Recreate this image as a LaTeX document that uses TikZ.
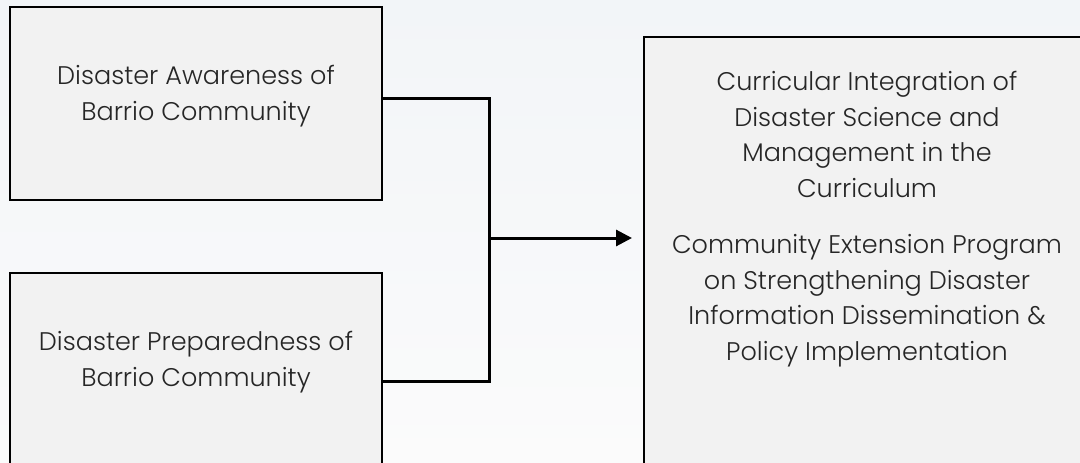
\documentclass[tikz,border=0pt]{standalone}
\usepackage{fontspec}
\setmainfont{Poppins Light}
\usepackage{xcolor}
\usepackage{tikz}
\usetikzlibrary{positioning,calc,arrows.meta}
\definecolor{boxgray}{HTML}{F2F2F2}
\definecolor{bgtop}{HTML}{F2F5F8}
\definecolor{bgbot}{HTML}{FBFBFB}
\tikzset{
  basic/.style  = {draw=black, line width=2pt, fill=boxgray, rectangle},
  label/.style  = {font=\fontsize{25.5}{35.5}\selectfont, align=center, text=black!85},
  link/.style   = {line width=3pt, line cap=rect},
  post/.style   = {-{Triangle[length=16pt,width=16pt]}, line width=3pt}
}
\begin{document}
\begin{tikzpicture}[x=1pt,y=-1pt]
  \useasboundingbox (0,0) rectangle (1080,463);
  \clip (0,0) rectangle (1080,463);
  \shade[top color=bgtop, bottom color=bgbot] (0,0) rectangle (1080,463);
  \node[basic, minimum width=372pt, minimum height=193pt] (aware) at (196,103.5) {};
  \node[basic, minimum width=372pt, minimum height=217pt] (prep)  at (196,381.5) {};
  \node[basic, minimum width=446pt, minimum height=453pt] (integ) at (867,263.5) {};
  \node[label] (awaretext) at (196,96) {Disaster Awareness of\\Barrio Community};
  \node[label] (preptext)  at (196,362) {Disaster Preparedness of\\Barrio Community};
  \node[label] (integtext) at (867,219) {Curricular Integration of\\Disaster Science and\\Management in the\\Curriculum\\[21pt]Community Extension Program\\on Strengthening Disaster\\Information Dissemination \&\\Policy Implementation};
  \coordinate (join) at (489,238);
  \draw[link] (aware.east |- 0,98) -- (489,98) -- (489,381) -- (prep.east |- 0,381);
  \draw[post] (join) -- ($(integ.west |- join)+(-11,0)$);
\end{tikzpicture}
\end{document}
